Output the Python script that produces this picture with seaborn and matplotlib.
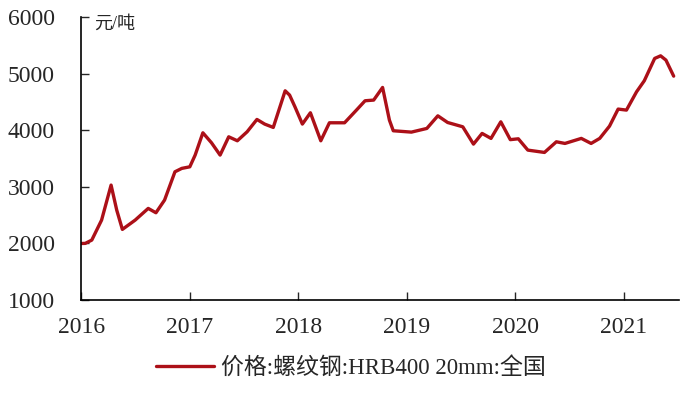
import pandas as pd
import matplotlib.pyplot as plt
import matplotlib.dates as mdates
import seaborn as sb

# rebar price (元/吨)
dates = ['2016-01-01', '2016-01-15', '2016-02-06', '2016-03-10', '2016-04-11', '2016-04-30',
         '2016-05-19', '2016-07-01', '2016-08-14', '2016-09-09', '2016-10-08', '2016-11-12',
         '2016-12-05', '2017-01-01', '2017-01-19', '2017-02-14', '2017-03-15', '2017-04-13',
         '2017-05-12', '2017-06-10', '2017-07-13', '2017-08-15', '2017-09-10', '2017-10-09',
         '2017-11-18', '2017-12-03', '2017-12-21', '2018-01-15', '2018-02-11', '2018-03-18',
         '2018-04-16', '2018-06-06', '2018-07-16', '2018-08-14', '2018-09-12', '2018-10-12',
         '2018-11-04', '2018-11-17', '2019-01-17', '2019-03-10', '2019-04-16', '2019-05-19',
         '2019-07-09', '2019-08-14', '2019-09-12', '2019-10-12', '2019-11-14', '2019-12-16',
         '2020-01-12', '2020-02-13', '2020-04-09', '2020-05-19', '2020-06-17', '2020-08-11',
         '2020-09-13', '2020-10-12', '2020-11-14', '2020-12-13', '2021-01-10', '2021-02-13',
         '2021-03-11', '2021-04-15', '2021-05-05', '2021-05-23', '2021-06-18']
prices = [2000, 2002, 2060, 2413, 3032, 2590,
          2249, 2413, 2620, 2543, 2767, 3267,
          3327, 3355, 3562, 3956, 3780, 3562,
          3885, 3815, 3974, 4192, 4110, 4051,
          4698, 4622, 4415, 4110, 4310, 3815,
          4133, 4133, 4357, 4522, 4534, 4757,
          4180, 3992, 3968, 4033, 4256, 4138,
          4062, 3756, 3945, 3857, 4150, 3835,
          3850, 3650, 3609, 3797, 3768, 3857,
          3768, 3857, 4074, 4375, 4357, 4680,
          4875, 5270, 5316, 5240, 4957]
series_name = '价格:螺纹钢:HRB400 20mm:全国'
unit = '元/吨'
years = [2016, 2017, 2018, 2019, 2020, 2021]

df = pd.DataFrame({'date': pd.to_datetime(dates), 'price': prices})

sb.set_style('ticks')
plt.rcParams['font.family'] = ['Liberation Serif', 'Noto Sans CJK SC']

fig = plt.figure(figsize=(6.99, 3.98), dpi=100)
ax = fig.add_axes([0.116, 0.246, 0.855, 0.711])

sb.lineplot(data=df, x='date', y='price', ax=ax, color='#AC1018', linewidth=2.4, label=series_name)

ax.set_xlim(pd.Timestamp('2016-01-01'), pd.Timestamp('2021-07-05'))
ax.set_ylim(1000, 6000)
ax.set_yticks([1000, 2000, 3000, 4000, 5000, 6000])
ax.set_xticks([pd.Timestamp(f'{y}-01-01') for y in years])
ax.xaxis.set_major_formatter(mdates.DateFormatter('%Y'))
ax.tick_params(axis='x', direction='in', length=6, width=1, labelsize=17, pad=12)
ax.tick_params(axis='y', direction='in', length=6, width=1, labelsize=17, pad=19)
ax.set_xlabel('')
ax.set_ylabel('')
for s in ['top', 'right']:
    ax.spines[s].set_visible(False)
for s in ['left', 'bottom']:
    ax.spines[s].set_linewidth(1.2)
    ax.spines[s].set_color('black')

ax.text(0.022, 1.005, unit, transform=ax.transAxes, fontsize=13, va='top', ha='left')

ax.get_legend().remove()
h, l = ax.get_legend_handles_labels()
fig.legend(h, l, loc='center', bbox_to_anchor=(0.502, 0.075), frameon=False,
           fontsize=16.5, handlelength=2.5, handletextpad=0.3)

fig.savefig('out.png', dpi=100)
